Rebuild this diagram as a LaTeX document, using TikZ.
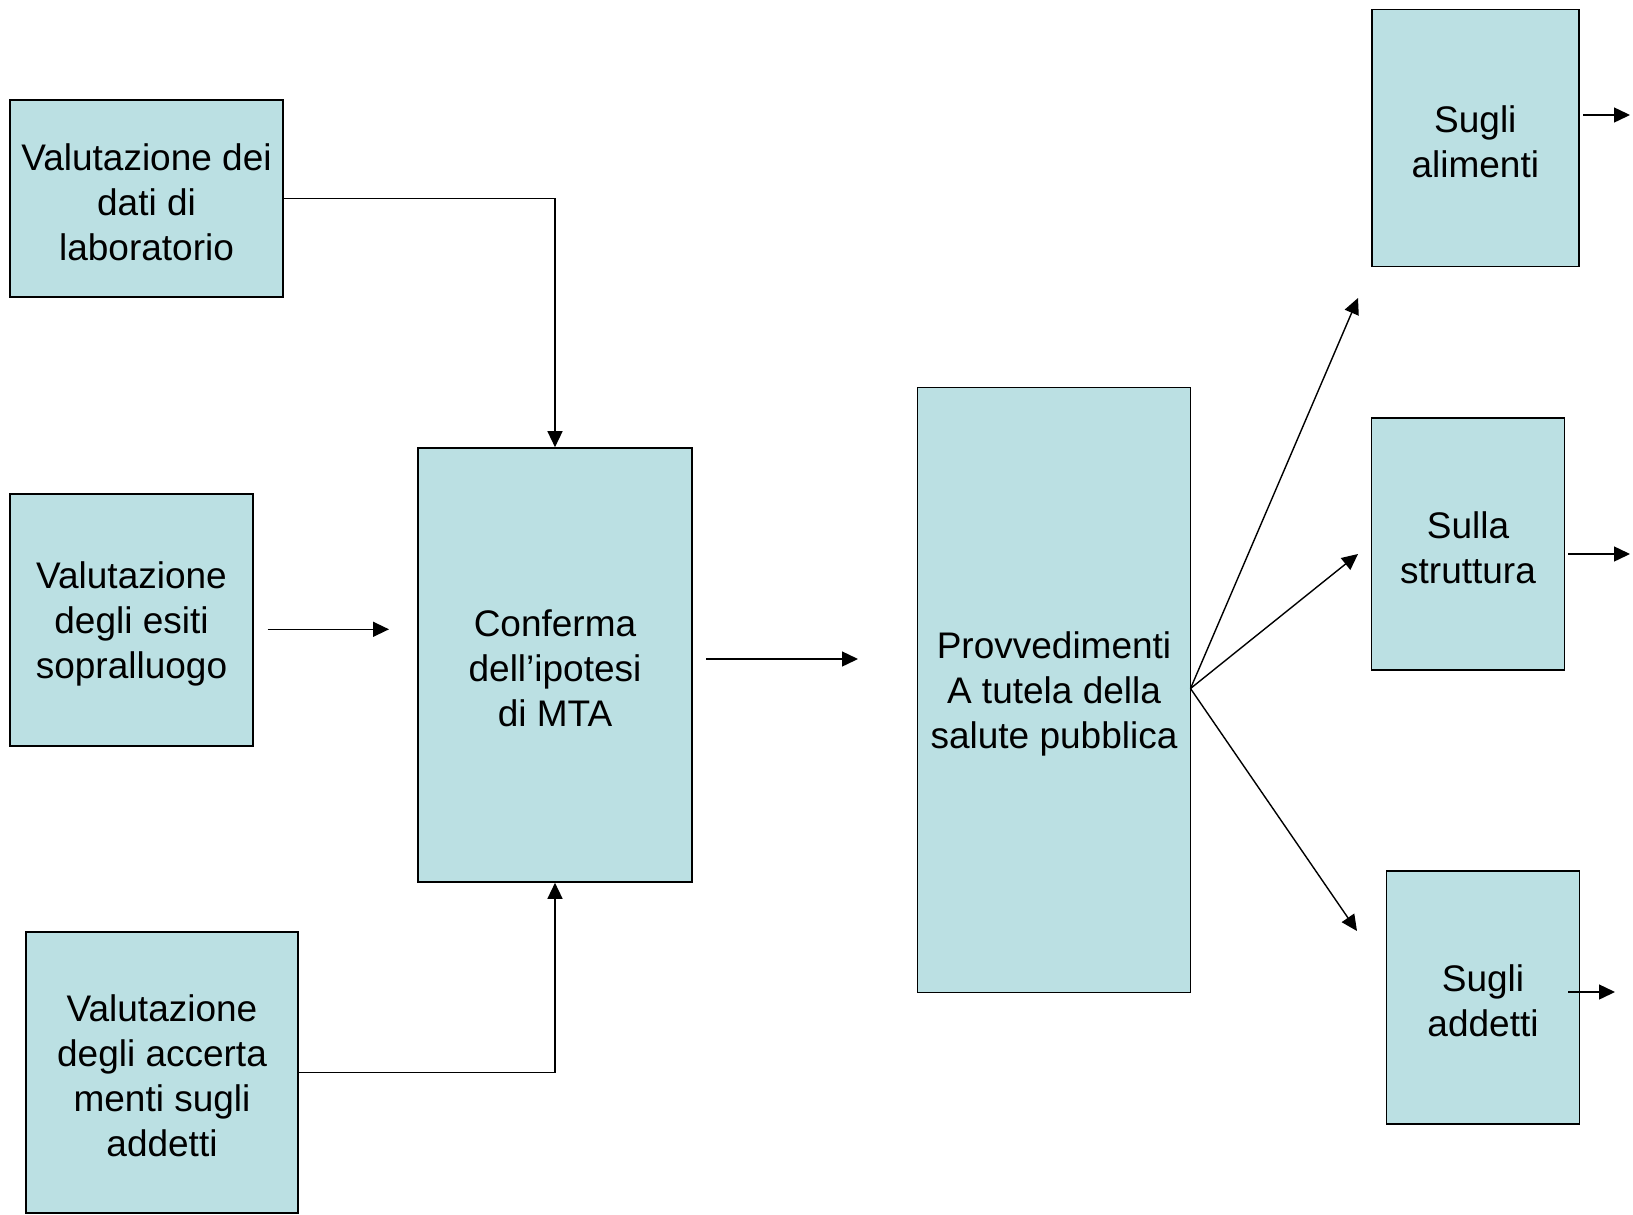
\documentclass[tikz,border=0pt]{standalone}
\usepackage{fontspec}
\setmainfont{Liberation Sans}
\usetikzlibrary{arrows.meta}
\definecolor{boxfill}{RGB}{187,224,227}
\begin{document}
\begin{tikzpicture}[x=1pt,y=-1pt,
  box/.style={draw=black,fill=boxfill,line width=1.6pt,inner sep=0pt},
  btext/.style={align=center,inner sep=0pt,yshift=-3.5pt,
    font=\fontsize{37}{45}\selectfont},
  conn/.style={line width=1.4pt,-{Triangle[length=16pt,width=15pt]}}]
\useasboundingbox (0,0) rectangle (1633,1215);
\fill[white] (0,0) rectangle (1633,1215);
\node[box,minimum width=273pt,minimum height=197pt,
  label={[btext]center:{Valutazione dei\\dati di\\laboratorio}}] (lab) at (146.5,198.5) {};
\node[box,minimum width=243pt,minimum height=252pt,
  label={[btext]center:{Valutazione\\degli esiti\\sopralluogo}}] (sop) at (131.5,620) {};
\node[box,minimum width=272pt,minimum height=281pt,
  label={[btext]center:{Valutazione\\degli accerta\\menti sugli\\addetti}}] (acc) at (162,1072.5) {};
\node[box,minimum width=274pt,minimum height=434pt,
  label={[btext]center:{Conferma\\dell’ipotesi\\di MTA}}] (conf) at (555,665) {};
\node[box,minimum width=273pt,minimum height=605pt,
  label={[btext]center:{Provvedimenti\\A tutela della\\salute pubblica}}] (prov) at (1054,690) {};
\node[box,minimum width=207pt,minimum height=257pt,
  label={[btext]center:{Sugli\\alimenti}}] (alim) at (1475.3,138) {};
\node[box,minimum width=193pt,minimum height=252pt,
  label={[btext]center:{Sulla\\struttura}}] (strut) at (1468,543.8) {};
\node[box,minimum width=193pt,minimum height=253pt,
  label={[btext]center:{Sugli\\addetti}}] (add) at (1483,997.7) {};

\coordinate (a1) at (267.7,629.3); \coordinate (a2) at (389,629.3);
\coordinate (b1) at (706,659); \coordinate (b2) at (858,659);
\coordinate (fan) at (1190.5,688.5);
\coordinate (f1) at (1358,298); \coordinate (f2) at (1358,554); \coordinate (f3) at (1357,931);
\coordinate (r1a) at (1583,115); \coordinate (r1b) at (1630,115);
\coordinate (r2a) at (1568,554); \coordinate (r2b) at (1630,554);
\coordinate (r3a) at (1568,992); \coordinate (r3b) at (1615,992);

\draw[conn] (lab.east) -| (conf.north);
\draw[conn] (acc.east) -| (conf.south);
\draw[conn] (a1) -- (a2);
\draw[conn] (b1) -- (b2);
\draw[conn] (fan) -- (f1);
\draw[conn] (fan) -- (f2);
\draw[conn] (fan) -- (f3);
\draw[conn] (r1a) -- (r1b);
\draw[conn] (r2a) -- (r2b);
\draw[conn] (r3a) -- (r3b);
\end{tikzpicture}
\end{document}
